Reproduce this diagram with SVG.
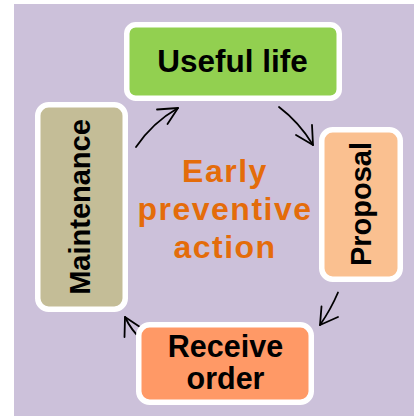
<svg xmlns="http://www.w3.org/2000/svg" width="414" height="416" viewBox="0 0 414 416">
<style>
.box{stroke:#FFFFFF;stroke-width:5.5}
.lbl{font-family:"Liberation Sans",Arial,sans-serif;font-weight:bold;fill:#000000;text-anchor:middle}
.ctr{font-family:"Liberation Sans",Arial,sans-serif;font-weight:bold;fill:#E46C0A;text-anchor:middle;font-size:32px;letter-spacing:1.5px}
.arr{fill:none;stroke:#000000;stroke-width:1.8;stroke-linecap:round;stroke-linejoin:round}
</style>
<rect x="14" y="4" width="400" height="412" fill="#CCC1DA"/>
<g id="connectors">
<path class="arr" d="M136,147 Q152.4,122.7 178,108"/>
<path class="arr" d="M157,109.5 L178,108 L167.5,124"/>
<path class="arr" d="M279,107 Q299,122 313,145"/>
<path class="arr" d="M296,135 L313,145 L312,125"/>
<path class="arr" d="M338,292.5 Q331,309 320,325"/>
<path class="arr" d="M321.5,306.5 L320,325 L338,317"/>
<path class="arr" d="M142,340 Q131,330 125,317"/>
<path class="arr" d="M124.5,337 L125,317 L140,327"/>
</g>
<g id="useful-life">
<rect class="box" x="126.75" y="24.75" width="212.5" height="73.5" rx="9" fill="#92D050"/>
<text class="lbl" x="232.5" y="72" font-size="31.5">Useful life</text>
</g>
<g id="proposal">
<rect class="box" x="321.75" y="129.75" width="78.5" height="149.5" rx="11" fill="#FAC090"/>
<text class="lbl" font-size="29" transform="translate(370.5,204) rotate(-90)">Proposal</text>
</g>
<g id="receive-order">
<rect class="box" x="138.75" y="324.75" width="172.5" height="77.5" rx="11" fill="#FF9966"/>
<text class="lbl" x="225.5" y="357" font-size="30.5">Receive</text>
<text class="lbl" x="225.5" y="389" font-size="30.5">order</text>
</g>
<g id="maintenance">
<rect class="box" x="37.75" y="104.75" width="87.5" height="204.5" rx="11" fill="#C4BD97"/>
<text class="lbl" font-size="29" transform="translate(90,207) rotate(-90)">Maintenance</text>
</g>
<g id="center-label">
<text class="ctr" x="225" y="182">Early</text>
<text class="ctr" x="225" y="220">preventive</text>
<text class="ctr" x="225" y="258">action</text>
</g>
</svg>
